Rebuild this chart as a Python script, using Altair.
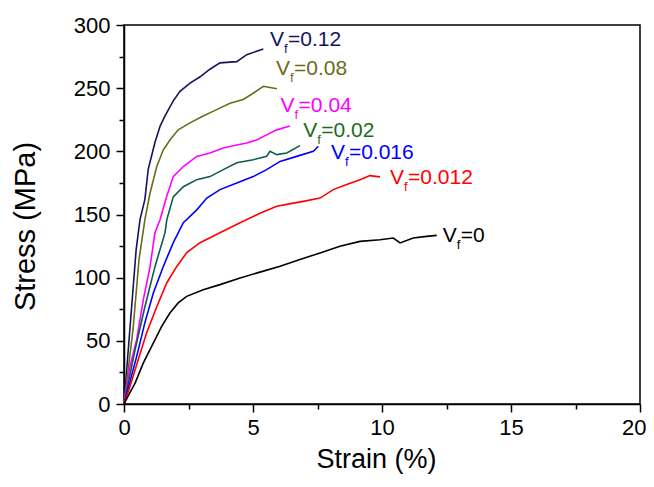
import altair as alt
import pandas as pd

# ---- data ----
series_names = ["Vf=0.12", "Vf=0.08", "Vf=0.04", "Vf=0.02", "Vf=0.016", "Vf=0.012", "Vf=0"]
line_colors = ["#14145e", "#6b6b18", "#ff00ff", "#0e5a52", "#0000ff", "#ff0000", "#000000"]

x_012 = [0, 0.47, 0.62, 0.81, 0.94, 1.20, 1.40, 1.59, 1.91, 2.17, 2.56, 2.95, 3.33, 3.72, 4.37, 4.76, 5.40]
y_012 = [0, 122, 146, 162, 186, 207, 220, 228, 240, 247.5, 254, 259, 265, 270, 271, 276.5, 281]

x_008 = [0, 0.35, 0.58, 0.81, 1.01, 1.27, 1.52, 1.78, 2.10, 2.56, 3.07, 3.59, 4.11, 4.62, 5.01, 5.40, 5.66, 5.93]
y_008 = [0, 59, 114, 146, 167, 188, 201, 209, 217, 222.5, 228, 233, 238, 241, 246, 251.5, 250.5, 249.5]

x_004 = [0, 0.23, 0.49, 0.75, 1.01, 1.20, 1.40, 1.65, 1.91, 2.30, 2.82, 3.33, 3.85, 4.37, 4.76, 5.14, 5.53, 5.92, 6.43]
y_004 = [0, 29.5, 51, 82.6, 108.7, 135.6, 146, 164, 180, 188, 196, 198.7, 202.7, 205, 206.6, 209, 213, 217, 220]

x_002 = [0, 0.43, 0.81, 1.20, 1.59, 1.66, 1.91, 2.30, 2.82, 3.33, 3.85, 4.37, 5.01, 5.53, 5.66, 5.92, 6.31, 6.82]
y_002 = [0, 43, 77, 108.7, 135.6, 146, 164, 172, 177.6, 180, 185.5, 191, 193.4, 196, 200, 197.4, 198.7, 204.5]

x_0016 = [0, 0.49, 0.81, 1.14, 1.52, 1.91, 2.30, 2.82, 3.21, 3.72, 4.37, 5.01, 5.53, 6.05, 6.69, 7.34, 7.53]
y_0016 = [0, 37.5, 64.4, 88, 108.7, 127.7, 143.5, 153.7, 163, 169.7, 175, 180, 185.5, 192, 196, 200, 204]

x_0012 = [0, 0.23, 0.55, 0.88, 1.27, 1.66, 2.04, 2.43, 2.95, 3.72, 4.50, 5.27, 5.92, 6.56, 6.95, 7.60, 8.11, 8.63, 9.15, 9.53, 9.92]
y_0012 = [0, 13.7, 35, 56.5, 77, 96, 108.7, 119.8, 127.7, 135.6, 143.5, 151, 156.5, 159, 160.4, 163, 169.7, 173.7, 177.6, 180.8, 179.8]

x_0 = [0, 0.23, 0.43, 0.75, 1.14, 1.46, 1.78, 2.10, 2.43, 3.07, 3.72, 4.50, 5.27, 6.05, 6.82, 7.60, 8.37, 9.15, 9.92, 10.44, 10.70, 11.21, 11.73, 12.12]
y_0 = [0, 9, 16.5, 32.5, 48.3, 61.4, 72, 80, 85.2, 90.5, 94.5, 99.8, 104.4, 109, 114.3, 119.6, 124.8, 128.7, 130, 131.4, 127.5, 131.4, 132.7, 133.5]

xs = [x_012, x_008, x_004, x_002, x_0016, x_0012, x_0]
ys = [y_012, y_008, y_004, y_002, y_0016, y_0012, y_0]

label_x = [5.66, 5.89, 6.07, 6.95, 8.02, 10.31, 12.35]
label_y = [288, 265, 236, 216, 198.7, 179, 132.7]
label_rest = ["=0.12", "=0.08", "=0.04", "=0.02", "=0.016", "=0.012", "=0"]
label_colors = ["#14145e", "#6b6b18", "#ff00ff", "#1a6b1a", "#0000ff", "#ff0000", "#000000"]

x_major = [0, 5, 10, 15, 20]
x_minor = [2.5, 7.5, 12.5, 17.5]
y_major = [0, 50, 100, 150, 200, 250, 300]
y_minor = [25, 75, 125, 175, 225, 275]

# ---- tables ----
rows = []
for name, xv, yv in zip(series_names, xs, ys):
    for i, (a, b) in enumerate(zip(xv, yv)):
        rows.append({"series": name, "strain": a, "stress": b, "order": i})
lines_df = pd.DataFrame(rows)

labels_df = pd.DataFrame({
    "strain": label_x, "stress": label_y, "rest": label_rest,
    "lcolor": label_colors, "V": ["V"] * 7, "f": ["f"] * 7,
})

FONT = "Liberation Sans"
xscale = alt.Scale(domain=[0, 20], nice=False, zero=False)
yscale = alt.Scale(domain=[0, 300], nice=False, zero=False)

common_axis = dict(
    domainColor="black", domainWidth=1.5, tickColor="black", tickWidth=1.5,
    grid=False, labelFont=FONT, labelFontSize=22, labelColor="black",
    titleFont=FONT, titleColor="black", titleFontWeight="normal",
)

x_axis_major = alt.Axis(
    orient="bottom", values=x_major, tickSize=8, labelPadding=5, format="d", title="Strain (%)",
    titleFontSize=27, titleX=252, titleY=63, titleAlign="center",
    titleBaseline="alphabetic", labelFlush=False,
    labelAlign=alt.condition("datum.value == 20", alt.value("right"), alt.value("center")),
    labelOffset=alt.condition("datum.value == 20", alt.value(6), alt.value(0)),
    **common_axis,
)
y_axis_major = alt.Axis(
    orient="left", values=y_major, tickSize=8, labelPadding=6, format="d", title="Stress (MPa)",
    titleFontSize=29, titleX=-90, titleY=201, titleAngle=270, titleAlign="center",
    titleBaseline="alphabetic", labelFlush=False, **common_axis,
)
x_axis_minor = alt.Axis(orient="bottom", values=x_minor, tickSize=5, labels=False, domain=False,
                        title=None, grid=False, tickColor="black", tickWidth=1.5)
y_axis_minor = alt.Axis(orient="left", values=y_minor, tickSize=5, labels=False, domain=False,
                        title=None, grid=False, tickColor="black", tickWidth=1.5)

lines = alt.Chart(lines_df).mark_line(strokeWidth=1.6).encode(
    x=alt.X("strain:Q", scale=xscale, axis=x_axis_major),
    y=alt.Y("stress:Q", scale=yscale, axis=y_axis_major),
    color=alt.Color("series:N", scale=alt.Scale(domain=series_names, range=line_colors), legend=None),
    order="order:Q",
    detail="series:N",
)

v_text = alt.Chart(labels_df).mark_text(
    align="left", baseline="middle", font=FONT, fontSize=21
).encode(
    x=alt.X("strain:Q", scale=xscale, axis=x_axis_minor),
    y=alt.Y("stress:Q", scale=yscale, axis=y_axis_minor),
    text="V:N",
    color=alt.Color("lcolor:N", scale=None),
)

f_text = alt.Chart(labels_df).mark_text(
    align="left", baseline="middle", font=FONT, fontSize=13, dx=14, dy=9
).encode(
    x=alt.X("strain:Q", scale=xscale, axis=None),
    y=alt.Y("stress:Q", scale=yscale, axis=None),
    text="f:N",
    color=alt.Color("lcolor:N", scale=None),
)

rest_text = alt.Chart(labels_df).mark_text(
    align="left", baseline="middle", font=FONT, fontSize=21, dx=18
).encode(
    x=alt.X("strain:Q", scale=xscale, axis=None),
    y=alt.Y("stress:Q", scale=yscale, axis=None),
    text="rest:N",
    color=alt.Color("lcolor:N", scale=None),
)

chart = alt.layer(lines, v_text, f_text, rest_text).resolve_axis(
    x="independent", y="independent"
).resolve_scale(color="independent").properties(
    width=516, height=379,
    padding={"left": 116, "top": 17, "right": 6, "bottom": 70},
    autosize=alt.AutoSizeParams(type="none"),
    background="white",
).configure_view(stroke="black", strokeWidth=1.5)

chart.save("out.html", embed_options={"renderer": "svg", "actions": False})
